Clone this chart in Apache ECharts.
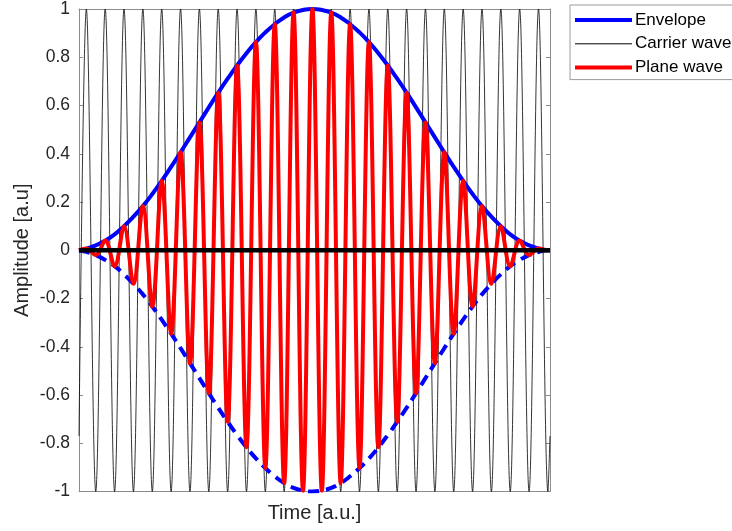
<!DOCTYPE html>
<html>
<head>
<meta charset="utf-8">
<script src="https://cdn.jsdelivr.net/npm/echarts@6/dist/echarts.min.js"></script>
<style>
  html, body { margin: 0; padding: 0; background: #fff; }
  #chart { width: 732px; height: 531px; }
</style>
</head>
<body>
<div id="chart"></div>
<script>
// Sample instants (in carrier periods): both plot edges plus every carrier peak and trough
const sampleTime = [
  0,
  0.39, 0.89, 1.39, 1.89, 2.39, 2.89, 3.39, 3.89, 4.39, 4.89,
  5.39, 5.89, 6.39, 6.89, 7.39, 7.89, 8.39, 8.89, 9.39, 9.89,
  10.39, 10.89, 11.39, 11.89, 12.39, 12.89, 13.39, 13.89, 14.39, 14.89,
  15.39, 15.89, 16.39, 16.89, 17.39, 17.89, 18.39, 18.89, 19.39, 19.89,
  20.39, 20.89, 21.39, 21.89, 22.39, 22.89, 23.39, 23.89, 24.39, 24.89,
  25
];

// Pulse envelope amplitude at each sample instant
const envelope = [
  0,
  0.007, 0.02, 0.04, 0.066, 0.1, 0.139, 0.183, 0.233, 0.288, 0.346,
  0.406, 0.468, 0.53, 0.592, 0.653, 0.711, 0.766, 0.817, 0.863, 0.903,
  0.937, 0.965, 0.985, 0.996, 1.0, 0.996, 0.985, 0.965, 0.937, 0.903,
  0.863, 0.817, 0.766, 0.711, 0.653, 0.592, 0.53, 0.468, 0.406, 0.346,
  0.288, 0.233, 0.183, 0.139, 0.1, 0.066, 0.04, 0.02, 0.007, 0,
  0
];

// Carrier wave: full swing between +1 and -1
const carrier = [
  -0.77,
  1, -1, 1, -1, 1, -1, 1, -1, 1, -1,
  1, -1, 1, -1, 1, -1, 1, -1, 1, -1,
  1, -1, 1, -1, 1, -1, 1, -1, 1, -1,
  1, -1, 1, -1, 1, -1, 1, -1, 1, -1,
  1, -1, 1, -1, 1, -1, 1, -1, 1, -1,
  -0.77
];

// Modulated plane wave: peaks and troughs bounded by the envelope
const planeWave = [
  0,
  0.007, -0.02, 0.04, -0.066, 0.1, -0.139, 0.183, -0.233, 0.288, -0.346,
  0.406, -0.468, 0.53, -0.592, 0.653, -0.711, 0.766, -0.817, 0.863, -0.903,
  0.937, -0.965, 0.985, -0.996, 1.0, -0.996, 0.985, -0.965, 0.937, -0.903,
  0.863, -0.817, 0.766, -0.711, 0.653, -0.592, 0.53, -0.468, 0.406, -0.346,
  0.288, -0.233, 0.183, -0.139, 0.1, -0.066, 0.04, -0.02, 0.007, 0,
  0
];

const timeRange = [0, 25];
const ampTicks = { min: -1, max: 1, step: 0.2 };

const pairs = (ys) => sampleTime.map((t, i) => [t, ys[i]]);

const FONT = 'Arial, "Liberation Sans", sans-serif';
const TXT = '#262626';
const FRAME = '#8c8c8c';
// legend keys show only the line sample, no marker
const NO_MARK = { color: 'rgba(0,0,0,0)', borderWidth: 0 };

const chart = echarts.init(document.getElementById('chart'), null, { renderer: 'canvas' });

chart.setOption({
  animation: false,
  backgroundColor: '#ffffff',
  grid: { left: 79, right: 182, top: 4.5, bottom: 39.5, containLabel: false },
  legend: {
    left: 570, top: 5,
    orient: 'vertical',
    backgroundColor: '#ffffff',
    borderColor: '#9a9a9a', borderWidth: 1,
    padding: [6.5, 40, 3.5, 3],
    itemWidth: 57, itemHeight: 14, itemGap: 6.8,
    textStyle: { fontFamily: FONT, fontSize: 17, color: '#000', padding: [0, 0, 0, -2] },
    selectedMode: false,
    data: [
      { name: 'Envelope', itemStyle: NO_MARK, lineStyle: { width: 4, color: '#0000ff' } },
      { name: 'Carrier wave', itemStyle: NO_MARK, lineStyle: { width: 1, color: '#000' } },
      { name: 'Plane wave', itemStyle: NO_MARK, lineStyle: { width: 4, color: '#ff0000' } }
    ]
  },
  xAxis: [
    {
      type: 'value', min: timeRange[0], max: timeRange[1],
      axisLine: { show: true, onZero: false, lineStyle: { color: FRAME, width: 1 } },
      axisTick: { show: false }, axisLabel: { show: false }, splitLine: { show: false },
      name: 'Time [a.u.]', nameLocation: 'middle', nameGap: 12,
      nameTextStyle: { fontFamily: FONT, fontSize: 20, color: TXT }
    },
    {
      type: 'value', position: 'top', min: timeRange[0], max: timeRange[1],
      axisLine: { show: true, onZero: false, lineStyle: { color: FRAME, width: 1 } },
      axisTick: { show: false }, axisLabel: { show: false }, splitLine: { show: false }
    }
  ],
  yAxis: [
    {
      type: 'value', min: ampTicks.min, max: ampTicks.max, interval: ampTicks.step,
      axisLine: { show: true, onZero: false, lineStyle: { color: FRAME, width: 1 } },
      axisTick: { show: true, inside: true, length: 4, lineStyle: { color: FRAME } },
      axisLabel: { fontFamily: FONT, fontSize: 17.5, color: TXT, margin: 9 },
      splitLine: { show: false },
      name: 'Amplitude [a.u]', nameLocation: 'middle', nameGap: 47, nameMoveOverlap: false,
      nameTextStyle: { fontFamily: FONT, fontSize: 20, color: TXT }
    },
    {
      type: 'value', position: 'right', min: ampTicks.min, max: ampTicks.max, interval: ampTicks.step,
      axisLine: { show: true, onZero: false, lineStyle: { color: FRAME, width: 1 } },
      axisTick: { show: true, inside: true, length: 4, lineStyle: { color: FRAME } },
      axisLabel: { show: false }, splitLine: { show: false }
    }
  ],
  series: [
    {
      name: 'Carrier wave', type: 'line', z: 1,
      data: pairs(carrier), smooth: 0.36, symbol: 'none',
      lineStyle: { color: '#000', width: 0.8 }
    },
    {
      name: 'Envelope', type: 'line', z: 2,
      data: pairs(envelope), smooth: 0.5, symbol: 'none',
      lineStyle: { color: '#0000ff', width: 4 }
    },
    {
      name: 'Envelope (lower)', type: 'line', z: 2,
      data: pairs(envelope.map(v => -v)), smooth: 0.5, symbol: 'none',
      lineStyle: { color: '#0000ff', width: 4, type: [11, 7] }
    },
    {
      name: 'Plane wave', type: 'line', z: 3,
      data: pairs(planeWave), smooth: 0.36, symbol: 'none',
      lineStyle: { color: '#ff0000', width: 4 }
    },
    {
      name: 'Zero level', type: 'line', z: 4,
      data: [[timeRange[0], 0], [timeRange[1], 0]], symbol: 'none',
      lineStyle: { color: '#000', width: 4.5 }
    }
  ]
});
</script>
</body>
</html>
